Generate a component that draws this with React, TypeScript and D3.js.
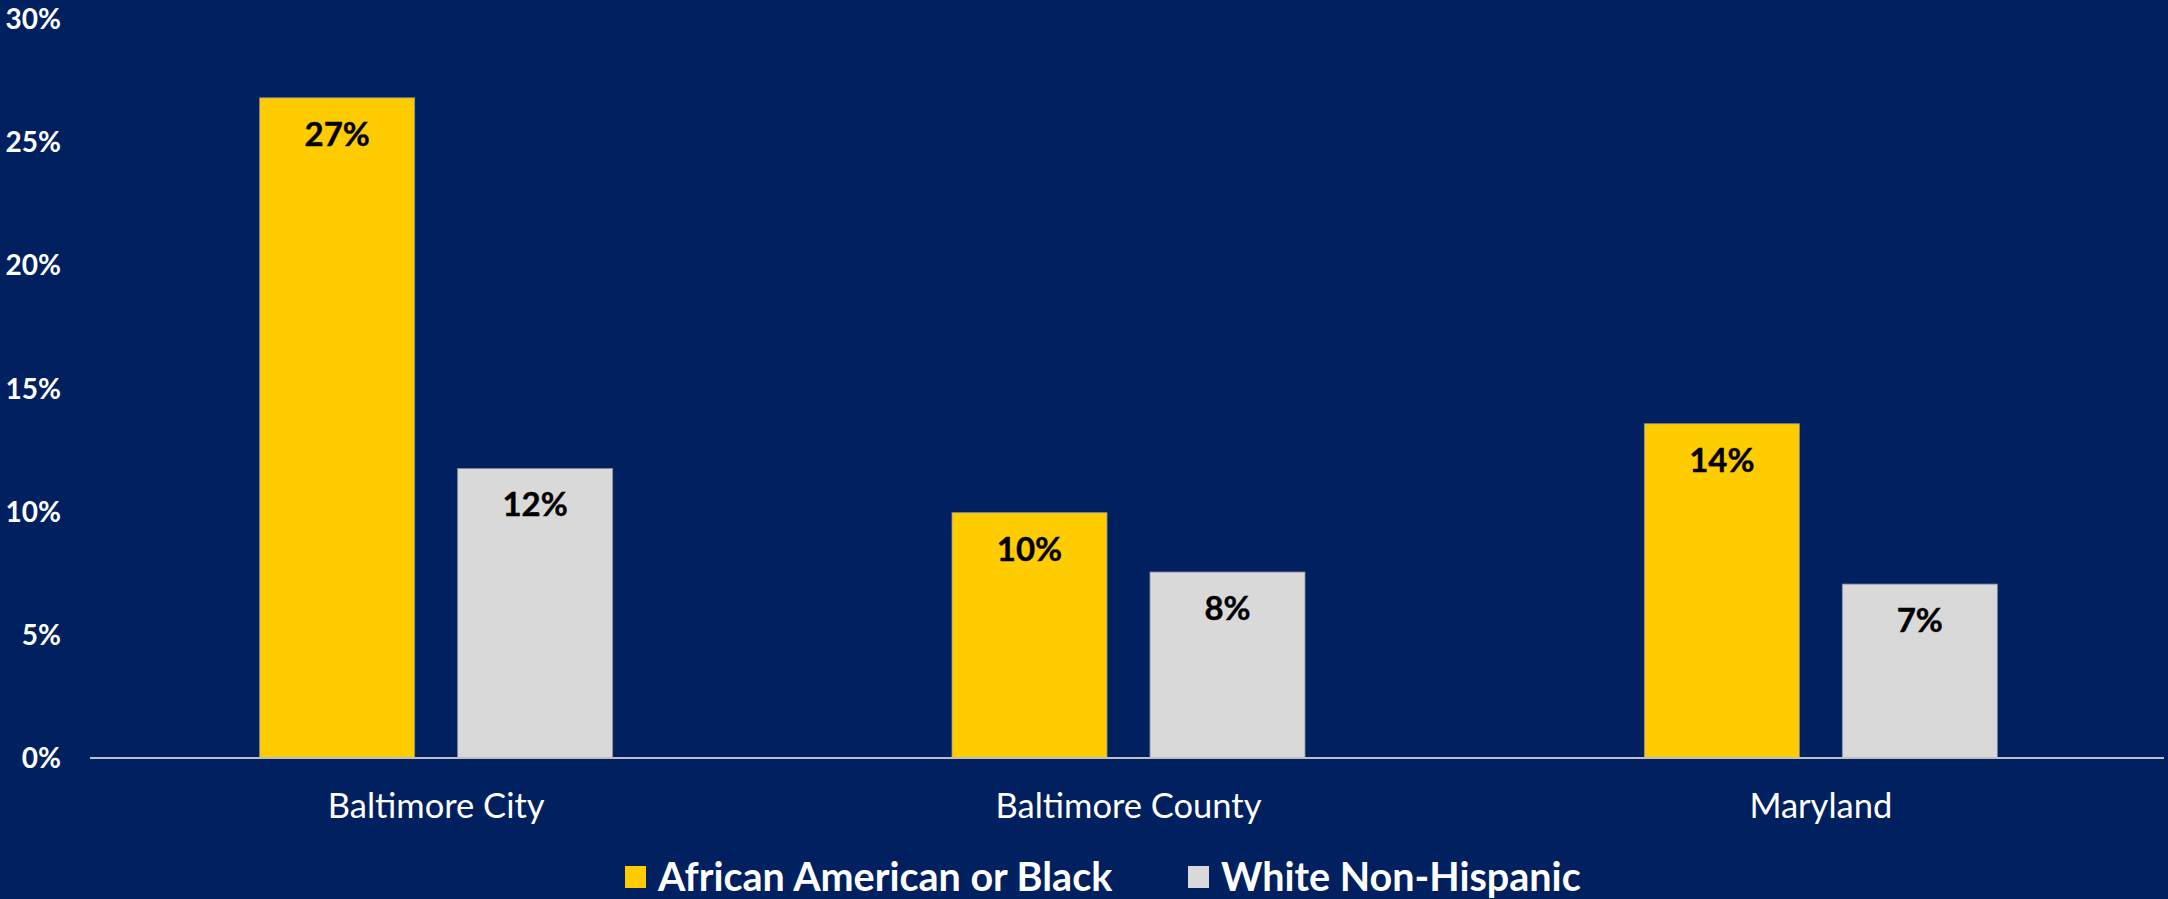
import React, { useEffect } from "react";
import * as d3 from "d3";

const categories = ["Baltimore City", "Baltimore County", "Maryland"];
const seriesNames = ["African American or Black", "White Non-Hispanic"];
const africanAmerican = [0.268, 0.0996, 0.1357];
const whiteNonHispanic = [0.1175, 0.0755, 0.0706];
const valueLabels = [
  ["27%", "10%", "14%"],
  ["12%", "8%", "7%"],
];
const yTicks = [0, 0.05, 0.1, 0.15, 0.2, 0.25, 0.3];
const seriesColors = ["#FFCC00", "#D9D9D9"];

const W = 2168;
const H = 899;
const FONT = "Lato, 'Open Sans', 'Noto Sans', sans-serif";

export default function App() {
  useEffect(() => {
    document.body.style.margin = "0";
  }, []);

  const seriesValues = [africanAmerican, whiteNonHispanic];
  const x0 = d3.scaleBand<string>().domain(categories).range([90, 2167]).padding(0);
  const y = d3.scaleLinear().domain([0, 0.3]).range([758, 19]);
  const groupW = 353;
  const x1 = d3
    .scaleBand<string>()
    .domain(seriesNames)
    .range([-groupW / 2, groupW / 2])
    .paddingInner(0.217)
    .paddingOuter(0);
  const fmt = d3.format(".0%");

  return (
    <svg width={W} height={H} style={{ display: "block", background: "#002060" }} fontFamily={FONT}>
      <rect x={0} y={0} width={W} height={H} fill="#002060" />
      {yTicks.map((t) => (
        <text
          key={t}
          x={61}
          y={y(t)}
          dy="0.36em"
          textAnchor="end"
          fill="#FFFFFF"
          fontWeight={700}
          fontSize={28}
        >
          {fmt(t)}
        </text>
      ))}
      {categories.map((c, ci) => {
        const cx = (x0(c) as number) + x0.bandwidth() / 2;
        return (
          <g key={c}>
            {seriesNames.map((s, si) => {
              const v = seriesValues[si][ci];
              const bx = cx + (x1(s) as number);
              return (
                <g key={s}>
                  <rect
                    x={bx}
                    y={y(v)}
                    width={x1.bandwidth()}
                    height={y(0) - y(v)}
                    fill={seriesColors[si]}
                    stroke="#8c8f9c"
                    strokeWidth={0.8}
                  />
                  <text
                    x={bx + x1.bandwidth() / 2}
                    y={y(v) + 36}
                    dy="0.36em"
                    textAnchor="middle"
                    fill="#000000"
                    fontWeight={700}
                    fontSize={33}
                    stroke="#000000"
                    strokeWidth={0.4}
                  >
                    {valueLabels[si][ci]}
                  </text>
                </g>
              );
            })}
            <text
              x={cx}
              y={806}
              dy="0.36em"
              textAnchor="middle"
              fill="#FFFFFF"
              fontSize={34.5}
            >
              {c}
            </text>
          </g>
        );
      })}
      <line x1={90} x2={2164} y1={y(0)} y2={y(0)} stroke="#BFBFBF" strokeWidth={2} />
      {seriesNames.map((s, si) => {
        const lx = [625, 1188][si];
        return (
          <g key={s}>
            <rect x={lx} y={866} width={21} height={22} fill={seriesColors[si]} />
            <text
              x={lx + 33}
              y={877}
              dy="0.36em"
              fill="#FFFFFF"
              fontWeight={700}
              fontSize={39.5}
            >
              {s}
            </text>
          </g>
        );
      })}
    </svg>
  );
}
